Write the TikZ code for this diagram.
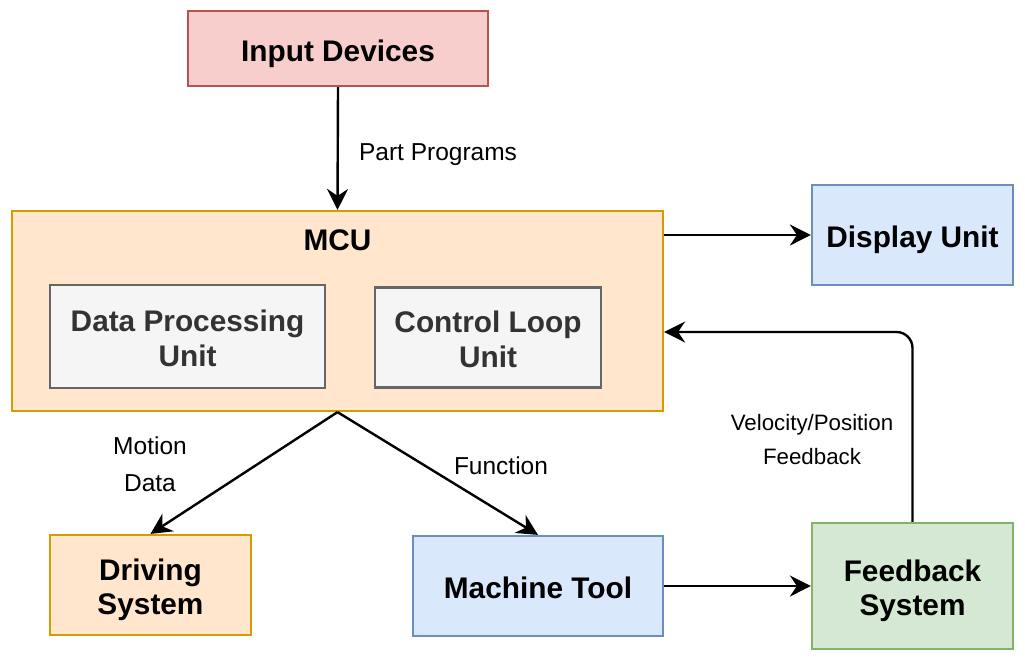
\documentclass[tikz,border=0pt]{standalone}
\usepackage{fontspec}
\setmainfont{Liberation Sans}
\usetikzlibrary{arrows.meta,calc}
\definecolor{redfill}{HTML}{F8CECC}
\definecolor{redline}{HTML}{B85450}
\definecolor{orfill}{HTML}{FFE6CC}
\definecolor{orline}{HTML}{D79B00}
\definecolor{grfill}{HTML}{F5F5F5}
\definecolor{grline}{HTML}{666666}
\definecolor{grtext}{HTML}{333333}
\definecolor{blfill}{HTML}{DAE8FC}
\definecolor{blline}{HTML}{6C8EBF}
\definecolor{gnfill}{HTML}{D5E8D4}
\definecolor{gnline}{HTML}{82B366}
\newcommand\boxtop{\rule{0pt}{32pt}}
\newcommand\boxbot{\rule[-6.6pt]{0pt}{6.6pt}}
\tikzset{
  box/.style={draw, line width=2.2pt, rectangle, inner sep=0pt, align=center,
    font=\fontsize{29.8}{34.5}\selectfont\bfseries},
  redbox/.style={box, fill=redfill, draw=redline},
  orbox/.style={box, fill=orfill, draw=orline},
  grbox/.style={box, fill=grfill, draw=grline, text=grtext},
  blbox/.style={box, fill=blfill, draw=blline},
  gnbox/.style={box, fill=gnfill, draw=gnline},
  arr/.style={line width=2.4pt, -{Stealth[length=21pt,width=21pt,inset=7pt]}},
  lbl/.style={font=\fontsize{24.5}{37}\selectfont, align=center, inner sep=0pt}
}
\begin{document}
\begin{tikzpicture}[x=1pt,y=-1pt]
\useasboundingbox (0,0) rectangle (1025,662);
\node[redbox, minimum width=300pt, minimum height=75pt] (inp) at (338,48.5) {\boxtop Input Devices\boxbot};
\node[orbox, minimum width=651pt, minimum height=200pt] (mcu) at (337.5,311) {};
\node[font=\fontsize{29.8}{34.5}\selectfont\bfseries, inner sep=0pt] (mcut) at (337.5,238) {\boxtop MCU\boxbot};
\node[grbox, minimum width=275pt, minimum height=103pt] (dpu) at (187.5,336.5) {\boxtop Data Processing\\Unit\boxbot};
\node[grbox, minimum width=226pt, minimum height=100pt] (clu) at (488,337.5) {\boxtop Control Loop\\Unit\boxbot};
\node[blbox, minimum width=201pt, minimum height=100pt] (disp) at (912.5,235) {\boxtop Display Unit\boxbot};
\node[orbox, minimum width=201pt, minimum height=100pt] (drv) at (150.5,585) {\boxtop Driving\\System\boxbot};
\node[blbox, minimum width=250pt, minimum height=100pt] (mt) at (538,586) {\boxtop Machine Tool\boxbot};
\node[gnbox, minimum width=201pt, minimum height=126pt] (fb) at (912.5,586) {\boxtop Feedback\\System\boxbot};
\coordinate (fbturn) at (912.5,332);
\draw[arr] (inp.south) -- (mcu.north);
\draw[arr] (mcu.east |- disp.west) -- (disp.west);
\draw[arr, rounded corners=16pt] (fb.north) -- (fbturn) -- (mcu.east |- fbturn);
\draw[arr] (mcu.south) -- (drv.north);
\draw[arr] (mcu.south) -- (mt.north);
\draw[arr] (mt.east) -- (fb.west);
\node[lbl] (lpp) at (438,155) {Part Programs};
\node[lbl] (lmd) at (150,464) {Motion\\Data};
\node[lbl] (lfn) at (501,466) {Function};
\node[lbl, font=\fontsize{22.3}{34}\selectfont] (lvp) at (812,440) {Velocity/Position\\Feedback};
\end{tikzpicture}
\end{document}
